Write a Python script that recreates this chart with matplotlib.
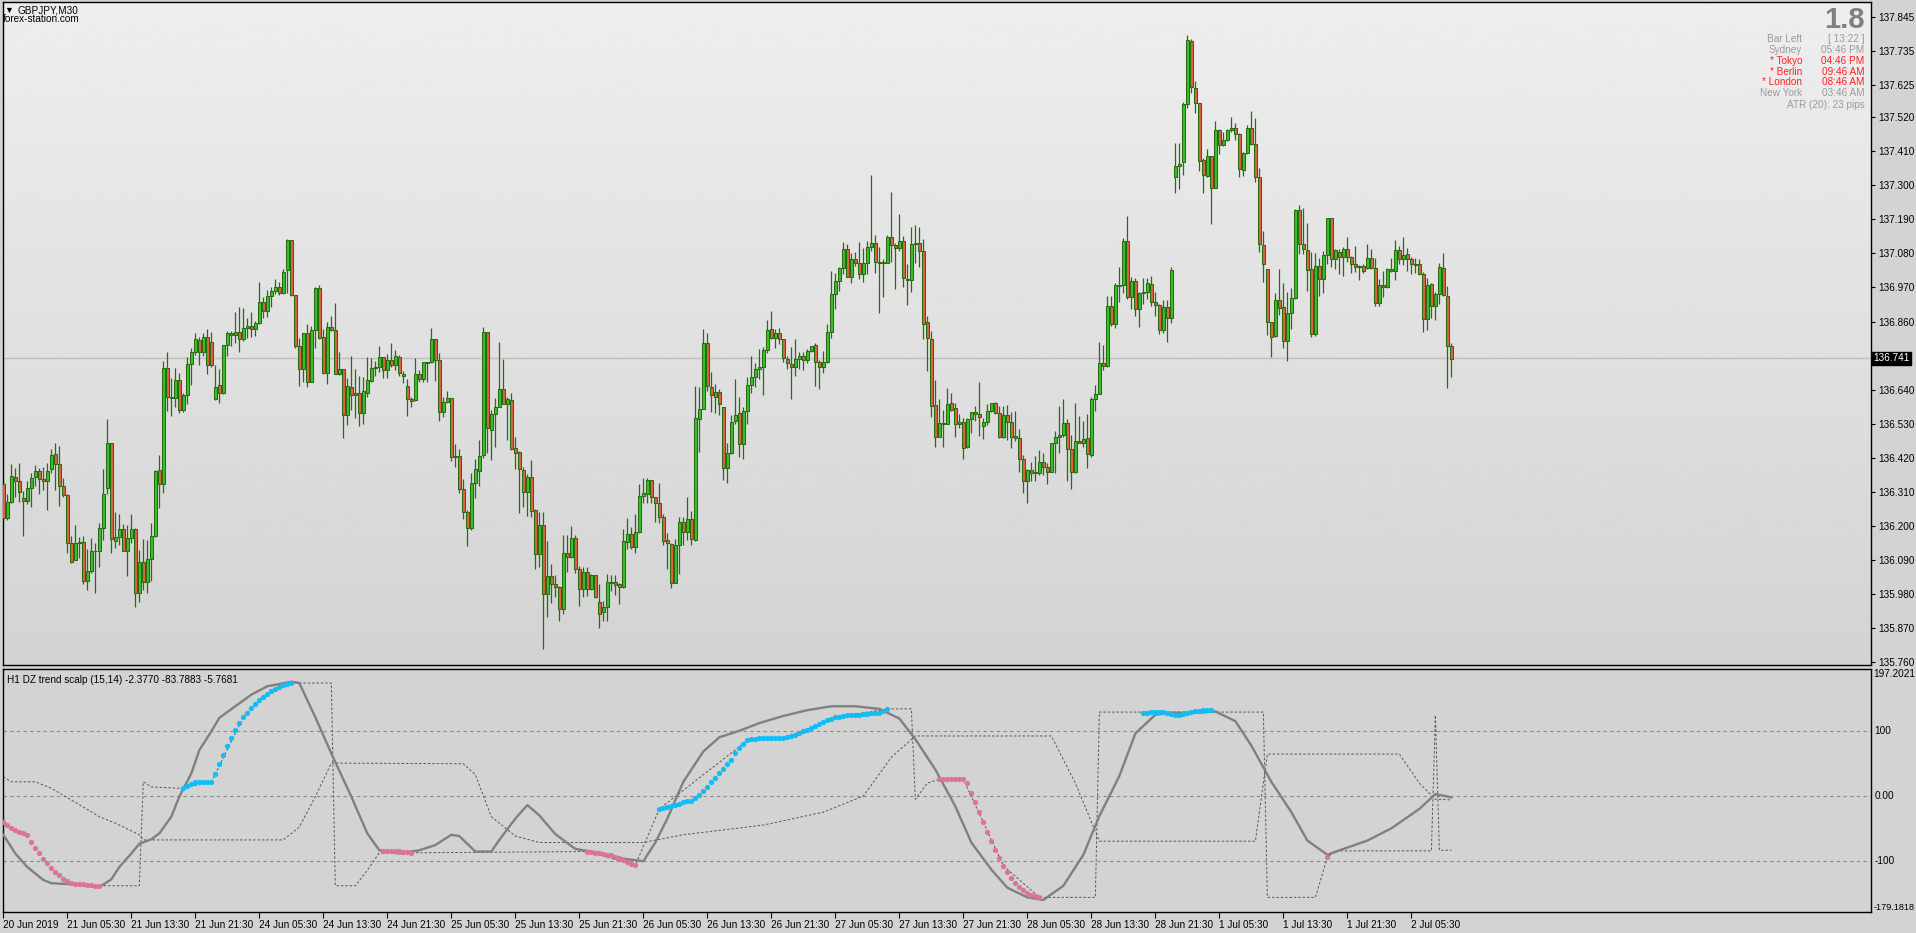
import numpy as np
import matplotlib.pyplot as plt
from matplotlib.transforms import blended_transform_factory

plt.rcParams['font.family'] = ['Liberation Sans', 'DejaVu Sans']

# GBPJPY M30 candles
opens = [
    136.335, 136.224, 136.278, 136.359, 136.346, 136.289, 136.280, 136.323, 136.357, 136.378,
    136.351, 136.343, 136.383, 136.431, 136.399, 136.327, 136.298, 136.144, 136.088, 136.144,
    136.149, 136.023, 136.055, 136.117, 136.117, 136.192, 136.321, 136.467, 136.152, 136.165,
    136.189, 136.120, 136.160, 136.189, 135.984, 136.084, 136.017, 136.092, 136.167, 136.381,
    136.334, 136.709, 136.615, 136.612, 136.670, 136.573, 136.622, 136.722, 136.761, 136.801,
    136.761, 136.811, 136.793, 136.611, 136.655, 136.628, 136.784, 136.818, 136.825, 136.825,
    136.803, 136.838, 136.844, 136.835, 136.854, 136.922, 136.893, 136.942, 136.958, 136.971,
    136.951, 137.026, 137.123, 136.945, 136.782, 136.706, 136.822, 136.663, 136.833, 136.968,
    136.809, 136.693, 136.842, 136.833, 136.690, 136.706, 136.557, 136.648, 136.628, 136.628,
    136.564, 136.630, 136.669, 136.711, 136.714, 136.744, 136.703, 136.734, 136.721, 136.744,
    136.690, 136.651, 136.609, 136.607, 136.689, 136.673, 136.727, 136.728, 136.805, 136.735,
    136.568, 136.601, 136.612, 136.425, 136.425, 136.318, 136.245, 136.192, 136.337, 136.378,
    136.429, 136.825, 136.511, 136.560, 136.583, 136.641, 136.595, 136.606, 136.450, 136.437,
    136.379, 136.308, 136.356, 136.251, 136.108, 136.204, 135.980, 136.038, 136.011, 136.001,
    135.930, 136.111, 136.098, 136.162, 136.059, 135.997, 136.049, 135.997, 136.041, 135.952,
    135.922, 135.936, 136.016, 136.018, 136.012, 136.003, 136.149, 136.172, 136.130, 136.179,
    136.296, 136.301, 136.347, 136.292, 136.272, 136.227, 136.154, 136.140, 136.016, 136.137,
    136.212, 136.179, 136.221, 136.154, 136.544, 136.578, 136.789, 136.647, 136.631, 136.631,
    136.585, 136.385, 136.434, 136.537, 136.563, 136.463, 136.572, 136.654, 136.680, 136.708,
    136.714, 136.767, 136.835, 136.806, 136.822, 136.803, 136.739, 136.723, 136.712, 136.738,
    136.750, 136.734, 136.764, 136.783, 136.728, 136.712, 136.728, 136.825, 136.948, 136.992,
    137.032, 137.093, 137.005, 137.061, 137.048, 137.013, 137.050, 137.102, 137.113, 137.052,
    137.051, 137.050, 137.132, 137.108, 137.096, 137.119, 136.997, 136.994, 137.111, 137.113,
    137.087, 136.857, 136.803, 136.589, 136.486, 136.529, 136.529, 136.596, 136.580, 136.534,
    136.534, 136.454, 136.544, 136.567, 136.561, 136.521, 136.534, 136.570, 136.596, 136.564,
    136.486, 136.558, 136.534, 136.490, 136.483, 136.416, 136.345, 136.380, 136.372, 136.372,
    136.406, 136.391, 136.374, 136.467, 136.486, 136.493, 136.531, 136.447, 136.373, 136.474,
    136.467, 136.483, 136.429, 136.609, 136.625, 136.725, 136.717, 136.910, 136.853, 136.976,
    136.978, 137.120, 136.940, 136.991, 136.899, 136.951, 136.955, 136.982, 136.922, 136.913,
    136.831, 136.907, 136.870, 137.326, 137.368, 137.376, 137.562, 137.766, 137.613, 137.565,
    137.382, 137.331, 137.395, 137.292, 137.479, 137.430, 137.446, 137.479, 137.485, 137.466,
    137.348, 137.403, 137.484, 137.434, 137.326, 137.107, 137.030, 136.857, 136.814, 136.929,
    136.907, 136.797, 136.886, 136.935, 137.220, 137.109, 137.090, 137.029, 136.819, 137.039,
    136.996, 137.075, 137.193, 137.061, 137.086, 137.067, 137.093, 137.067, 137.046, 137.039,
    137.039, 137.032, 137.064, 137.032, 136.919, 136.978, 136.970, 137.024, 137.024, 137.090,
    137.061, 137.077, 137.061, 137.046, 137.045, 137.012, 136.868, 136.980, 136.911, 136.949,
    137.032, 136.943, 136.782,
]
highs = [
    136.359, 136.302, 136.400, 136.386, 136.402, 136.311, 136.346, 136.370, 136.397, 136.386,
    136.389, 136.402, 136.448, 136.467, 136.458, 136.354, 136.302, 136.167, 136.203, 136.165,
    136.167, 136.124, 136.160, 136.144, 136.208, 136.384, 136.545, 136.467, 136.244, 136.238,
    136.206, 136.203, 136.238, 136.194, 136.122, 136.157, 136.154, 136.208, 136.381, 136.429,
    136.733, 136.762, 136.677, 136.709, 136.693, 136.628, 136.744, 136.776, 136.824, 136.809,
    136.824, 136.836, 136.826, 136.720, 136.707, 136.784, 136.830, 136.830, 136.892, 136.906,
    136.903, 136.871, 136.892, 136.863, 136.987, 136.938, 136.962, 136.973, 136.997, 136.987,
    137.030, 137.127, 137.123, 136.945, 136.806, 136.822, 136.852, 136.844, 136.973, 136.978,
    136.835, 136.857, 136.878, 136.920, 136.761, 136.706, 136.677, 136.747, 136.707, 136.685,
    136.682, 136.744, 136.741, 136.732, 136.781, 136.746, 136.754, 136.790, 136.768, 136.751,
    136.700, 136.673, 136.617, 136.741, 136.703, 136.730, 136.730, 136.838, 136.805, 136.757,
    136.615, 136.634, 136.612, 136.463, 136.447, 136.350, 136.251, 136.372, 136.416, 136.477,
    136.841, 136.825, 136.574, 136.612, 136.793, 136.738, 136.615, 136.628, 136.486, 136.442,
    136.389, 136.367, 136.414, 136.255, 136.245, 136.245, 136.151, 136.075, 136.041, 136.005,
    136.170, 136.170, 136.199, 136.170, 136.070, 136.068, 136.068, 136.044, 136.041, 136.012,
    135.957, 136.044, 136.041, 136.041, 136.016, 136.189, 136.224, 136.197, 136.238, 136.335,
    136.355, 136.355, 136.347, 136.294, 136.339, 136.237, 136.175, 136.143, 136.156, 136.229,
    136.229, 136.293, 136.248, 136.651, 136.649, 136.836, 136.823, 136.697, 136.658, 136.642,
    136.585, 136.466, 136.558, 136.674, 136.615, 136.585, 136.680, 136.747, 136.727, 136.771,
    136.777, 136.865, 136.894, 136.836, 136.838, 136.803, 136.749, 136.779, 136.804, 136.760,
    136.760, 136.770, 136.781, 136.792, 136.736, 136.766, 136.852, 137.023, 137.016, 137.037,
    137.117, 137.111, 137.083, 137.084, 137.117, 137.099, 137.121, 137.334, 137.140, 137.100,
    137.062, 137.140, 137.278, 137.113, 137.208, 137.136, 137.045, 137.164, 137.172, 137.164,
    137.127, 136.879, 136.830, 136.671, 136.610, 136.574, 136.644, 136.628, 136.596, 136.561,
    136.547, 136.547, 136.569, 136.587, 136.664, 136.547, 136.593, 136.598, 136.599, 136.587,
    136.588, 136.590, 136.566, 136.571, 136.512, 136.429, 136.384, 136.407, 136.424, 136.445,
    136.434, 136.404, 136.469, 136.506, 136.588, 136.610, 136.545, 136.493, 136.598, 136.555,
    136.540, 136.561, 136.615, 136.655, 136.795, 136.784, 136.943, 136.943, 136.985, 137.037,
    137.131, 137.202, 137.005, 137.002, 136.956, 137.002, 136.999, 137.008, 136.956, 136.915,
    136.929, 136.929, 137.037, 137.438, 137.436, 137.570, 137.786, 137.773, 137.638, 137.565,
    137.389, 137.417, 137.395, 137.508, 137.482, 137.471, 137.482, 137.521, 137.503, 137.470,
    137.409, 137.495, 137.540, 137.519, 137.357, 137.152, 137.030, 136.859, 136.953, 137.030,
    136.985, 136.954, 136.969, 137.222, 137.236, 137.228, 137.177, 137.086, 137.080, 137.064,
    137.088, 137.196, 137.196, 137.094, 137.094, 137.102, 137.132, 137.072, 137.105, 137.042,
    137.045, 137.110, 137.094, 137.066, 136.997, 137.023, 137.034, 137.066, 137.125, 137.104,
    137.133, 137.099, 137.067, 137.066, 137.061, 137.021, 137.002, 136.983, 136.956, 137.050,
    137.080, 136.975, 136.790,
]
lows = [
    136.213, 136.217, 136.275, 136.294, 136.278, 136.168, 136.271, 136.262, 136.329, 136.303,
    136.316, 136.251, 136.370, 136.316, 136.264, 136.294, 136.111, 136.081, 136.088, 136.095,
    136.012, 135.993, 136.047, 135.984, 136.068, 136.154, 136.302, 136.113, 136.127, 136.138,
    136.117, 136.039, 136.144, 135.939, 135.952, 135.991, 135.984, 136.020, 136.165, 136.256,
    136.307, 136.571, 136.556, 136.585, 136.564, 136.569, 136.593, 136.655, 136.752, 136.718,
    136.747, 136.690, 136.714, 136.607, 136.596, 136.626, 136.750, 136.781, 136.790, 136.760,
    136.797, 136.806, 136.809, 136.814, 136.851, 136.871, 136.876, 136.908, 136.949, 136.946,
    136.949, 136.953, 136.941, 136.776, 136.653, 136.666, 136.647, 136.663, 136.776, 136.805,
    136.690, 136.658, 136.830, 136.690, 136.688, 136.485, 136.524, 136.574, 136.548, 136.521,
    136.528, 136.617, 136.665, 136.684, 136.698, 136.678, 136.678, 136.714, 136.703, 136.684,
    136.660, 136.555, 136.585, 136.603, 136.665, 136.665, 136.665, 136.725, 136.669, 136.539,
    136.550, 136.598, 136.410, 136.389, 136.307, 136.221, 136.136, 136.186, 136.289, 136.329,
    136.420, 136.436, 136.412, 136.453, 136.583, 136.593, 136.477, 136.445, 136.384, 136.242,
    136.262, 136.231, 136.229, 136.061, 136.068, 135.802, 135.904, 135.949, 135.971, 135.893,
    135.914, 136.049, 136.095, 136.046, 135.941, 135.969, 135.973, 135.992, 135.965, 135.868,
    135.893, 135.893, 135.990, 135.975, 135.947, 136.000, 136.124, 136.125, 136.113, 136.178,
    136.274, 136.274, 136.272, 136.213, 136.210, 136.137, 136.060, 136.000, 136.014, 136.044,
    136.138, 136.154, 136.137, 136.152, 136.439, 136.577, 136.636, 136.569, 136.563, 136.558,
    136.348, 136.337, 136.432, 136.529, 136.423, 136.415, 136.529, 136.630, 136.647, 136.675,
    136.621, 136.757, 136.803, 136.776, 136.787, 136.728, 136.706, 136.609, 136.684, 136.707,
    136.703, 136.727, 136.760, 136.653, 136.643, 136.695, 136.725, 136.806, 136.900, 136.960,
    137.012, 137.003, 136.986, 137.040, 136.996, 136.989, 137.013, 137.088, 137.018, 136.887,
    136.940, 137.050, 137.051, 136.964, 137.089, 136.970, 136.912, 136.954, 137.048, 137.037,
    136.803, 136.701, 136.553, 136.456, 136.486, 136.456, 136.529, 136.572, 136.488, 136.515,
    136.415, 136.450, 136.499, 136.537, 136.491, 136.479, 136.526, 136.569, 136.561, 136.483,
    136.483, 136.477, 136.450, 136.475, 136.373, 136.307, 136.273, 136.343, 136.345, 136.364,
    136.364, 136.334, 136.373, 136.370, 136.434, 136.488, 136.343, 136.318, 136.372, 136.467,
    136.456, 136.386, 136.423, 136.572, 136.625, 136.703, 136.712, 136.847, 136.840, 136.924,
    136.951, 136.933, 136.899, 136.879, 136.843, 136.915, 136.933, 136.910, 136.879, 136.819,
    136.822, 136.795, 136.856, 137.274, 137.287, 137.333, 137.549, 137.597, 137.535, 137.347,
    137.274, 137.328, 137.174, 137.290, 137.400, 137.428, 137.443, 137.471, 137.446, 137.328,
    137.331, 137.400, 137.432, 137.310, 137.086, 136.987, 136.816, 136.746, 136.811, 136.881,
    136.775, 136.733, 136.835, 136.932, 137.077, 137.078, 136.960, 136.809, 136.814, 136.943,
    136.953, 137.046, 137.037, 137.030, 137.013, 137.007, 137.053, 137.016, 137.019, 136.994,
    137.016, 137.030, 137.030, 136.910, 136.911, 136.940, 136.967, 137.019, 136.994, 137.045,
    137.043, 137.023, 137.012, 137.016, 137.010, 136.827, 136.833, 136.870, 136.865, 136.915,
    136.943, 136.646, 136.682,
]
closes = [
    136.224, 136.278, 136.362, 136.346, 136.308, 136.280, 136.323, 136.354, 136.378, 136.350,
    136.343, 136.378, 136.428, 136.399, 136.327, 136.298, 136.144, 136.084, 136.144, 136.149,
    136.020, 136.054, 136.120, 136.120, 136.192, 136.302, 136.467, 136.157, 136.165, 136.189,
    136.120, 136.160, 136.189, 135.982, 136.082, 136.017, 136.092, 136.167, 136.377, 136.334,
    136.709, 136.615, 136.612, 136.670, 136.573, 136.622, 136.722, 136.761, 136.803, 136.761,
    136.811, 136.719, 136.719, 136.648, 136.628, 136.784, 136.822, 136.822, 136.818, 136.803,
    136.838, 136.844, 136.835, 136.854, 136.922, 136.893, 136.942, 136.958, 136.971, 136.951,
    137.019, 137.123, 136.945, 136.782, 136.706, 136.822, 136.663, 136.833, 136.968, 136.808,
    136.693, 136.842, 136.831, 136.690, 136.706, 136.557, 136.652, 136.622, 136.621, 136.564,
    136.635, 136.671, 136.709, 136.714, 136.744, 136.703, 136.734, 136.721, 136.747, 136.692,
    136.683, 136.608, 136.604, 136.689, 136.673, 136.730, 136.730, 136.805, 136.735, 136.568,
    136.599, 136.612, 136.421, 136.421, 136.318, 136.245, 136.192, 136.337, 136.382, 136.427,
    136.825, 136.515, 136.560, 136.583, 136.641, 136.595, 136.608, 136.447, 136.436, 136.382,
    136.308, 136.356, 136.249, 136.108, 136.204, 135.980, 136.038, 136.011, 136.001, 135.930,
    136.111, 136.098, 136.162, 136.059, 135.997, 136.049, 135.997, 136.041, 135.969, 135.914,
    135.936, 136.018, 136.019, 136.010, 136.003, 136.151, 136.172, 136.130, 136.179, 136.296,
    136.305, 136.347, 136.292, 136.272, 136.227, 136.152, 136.143, 136.014, 136.137, 136.212,
    136.181, 136.221, 136.156, 136.547, 136.578, 136.789, 136.650, 136.621, 136.617, 136.595,
    136.385, 136.434, 136.536, 136.558, 136.463, 136.572, 136.654, 136.680, 136.706, 136.714,
    136.767, 136.832, 136.806, 136.822, 136.803, 136.741, 136.725, 136.712, 136.738, 136.749,
    136.734, 136.764, 136.781, 136.728, 136.712, 136.728, 136.825, 136.948, 136.992, 137.032,
    137.093, 137.005, 137.061, 137.048, 137.013, 137.050, 137.100, 137.113, 137.051, 137.050,
    137.048, 137.132, 137.106, 137.096, 137.119, 136.999, 136.994, 137.111, 137.113, 137.087,
    136.851, 136.806, 136.588, 136.486, 136.531, 136.531, 136.593, 136.575, 136.528, 136.528,
    136.450, 136.544, 136.567, 136.560, 136.553, 136.534, 136.570, 136.596, 136.564, 136.486,
    136.558, 136.534, 136.486, 136.483, 136.416, 136.345, 136.380, 136.370, 136.374, 136.407,
    136.389, 136.374, 136.467, 136.486, 136.493, 136.531, 136.448, 136.373, 136.475, 136.469,
    136.479, 136.432, 136.609, 136.625, 136.725, 136.717, 136.910, 136.853, 136.978, 136.978,
    137.120, 136.940, 136.991, 136.899, 136.953, 136.955, 136.985, 136.922, 136.913, 136.831,
    136.907, 136.870, 137.026, 137.362, 137.362, 137.563, 137.770, 137.617, 137.565, 137.380,
    137.335, 137.395, 137.292, 137.479, 137.430, 137.446, 137.479, 137.485, 137.465, 137.352,
    137.406, 137.484, 137.434, 137.326, 137.109, 137.045, 136.857, 136.811, 136.929, 136.905,
    136.797, 136.886, 136.935, 137.220, 137.109, 137.094, 137.025, 136.819, 137.039, 136.996,
    137.075, 137.193, 137.061, 137.090, 137.067, 137.093, 137.067, 137.046, 137.035, 137.035,
    137.024, 137.064, 137.032, 136.919, 136.978, 136.970, 137.030, 137.030, 137.090, 137.061,
    137.075, 137.061, 137.045, 137.044, 137.012, 136.868, 136.978, 136.911, 136.949, 137.035,
    136.946, 136.782, 136.738,
]

time_labels = ['20 Jun 2019', '21 Jun 05:30', '21 Jun 13:30', '21 Jun 21:30', '24 Jun 05:30',
               '24 Jun 13:30', '24 Jun 21:30', '25 Jun 05:30', '25 Jun 13:30', '25 Jun 21:30',
               '26 Jun 05:30', '26 Jun 13:30', '26 Jun 21:30', '27 Jun 05:30', '27 Jun 13:30',
               '27 Jun 21:30', '28 Jun 05:30', '28 Jun 13:30', '28 Jun 21:30', '1 Jul 05:30',
               '1 Jul 13:30', '1 Jul 21:30', '2 Jul 05:30']
price_ticks = [137.845, 137.735, 137.625, 137.520, 137.410, 137.300, 137.190, 137.080,
               136.970, 136.860, 136.750, 136.640, 136.530, 136.420, 136.310, 136.200,
               136.090, 135.980, 135.870, 135.760]
last_price = 136.741

# indicator: (bar, value)
trend_line = [(0, -60), (3, -89), (6, -110), (10, -130), (12, -135), (18, -137), (22, -140),
              (24, -141), (27, -129), (29, -110), (32, -89), (34, -74), (37, -67), (39, -58),
              (42, -32), (44, -1), (47, 35), (49, 71), (52, 100), (54, 121), (58, 139),
              (62, 157), (66, 170), (72, 177), (74, 175), (78, 122), (82, 66), (87, -1),
              (91, -58), (94, -84), (99, -89), (104, -84), (108, -76), (112, -60), (114, -62),
              (118, -86), (122, -86), (124, -68), (128, -35), (131, -14), (134, -30),
              (138, -59), (143, -82), (149, -88), (155, -97), (160, -101), (163, -72),
              (166, -35), (170, 22), (175, 69), (179, 91), (184, 101), (189, 113), (195, 124),
              (201, 133), (207, 139), (213, 139), (219, 135), (224, 120), (228, 88), (233, 41),
              (238, -16), (242, -72), (247, -114), (251, -142), (256, -157), (260, -161),
              (265, -139), (270, -91), (274, -31), (279, 31), (283, 97), (288, 126), (292, 129),
              (299, 129), (303, 131), (308, 116), (312, 78), (317, 22), (322, -25), (326, -69),
              (331, -91), (335, -82), (341, -69), (347, -50), (354, -20), (358, 3), (362, -2)]
signal_line = [(24, -139), (34, -139), (35, 22), (37, 14), (44, 12), (52, 21), (53, 34),
               (60, 123), (66, 158), (72, 175), (82, 175), (83, -139), (88, -139), (91, -115),
               (94, -88), (102, -88), (146, -86), (158, -107), (164, -20), (186, 86),
               (195, 90), (210, 124), (221, 135), (227, 135), (228, -5), (231, 20), (234, 26),
               (240, 26), (250, -108), (259, -157), (273, -157), (274, 130), (315, 130),
               (316, -157), (328, -157), (331, -95), (333, -85), (357, -85), (358, 125),
               (359, -84), (362, -84)]
zone_line = [(0, 30), (2, 22), (8, 22), (12, 12), (20, -17), (24, -32), (28, -42), (34, -60),
             (35, -68), (70, -68), (74, -48), (78, -1), (82, 51), (115, 50), (118, 33),
             (122, -32), (128, -62), (134, -72), (160, -72), (170, -60), (190, -45),
             (205, -25), (215, 0), (222, 60), (228, 93), (262, 93), (268, 20), (274, -70),
             (313, -70), (316, 65), (349, 65), (354, 20), (358, -5), (362, -6)]

up_runs = [
    (45, [13, 16, 19, 21, 21, 21, 21, 21, 34, 50, 64, 78, 90, 102, 113, 123, 129, 136, 143,
          149, 154, 158, 162, 165, 169, 172, 174, 175]),
    (164, [-20, -19, -17, -16, -14, -12, -10, -8, -7, -3, 2, 7, 14, 22, 28, 35, 42, 49, 56,
           66, 75, 81, 86, 88, 89, 90, 90, 90, 90, 90, 90, 90, 92, 93, 95, 98, 100, 103, 106,
           109, 112, 115, 118, 120, 122, 123, 124, 125, 125, 126, 126, 127, 127, 128, 128,
           129, 131, 135]),
    (285, [128, 129, 130, 130, 130, 130, 128, 127, 126, 126, 127, 128, 130, 131, 132, 133,
           133, 134]),
]
down_runs = [
    (0, [-41, -45, -49, -52, -55, -58, -61, -71, -81, -89, -98, -103, -111, -117, -123, -128,
         -131, -134, -136, -137, -137, -138, -138, -139, -139]),
    (95, [-85, -85, -85, -85, -85, -86, -87, -88]),
    (146, [-86, -87, -88, -89, -90, -91, -92, -94, -96, -99, -102, -105, -107]),
    (234, [26, 26, 26, 26, 26, 26, 26, 20, 5, -10, -25, -40, -55, -70, -83, -96, -108, -118,
           -127, -135, -141, -146, -150, -153, -155, -157]),
    (331, [-95]),
]

FS = 7.2
W, H = 1916, 933
fig = plt.figure(figsize=(W / 100, H / 100), dpi=100, facecolor='#D3D3D3')
left, right = 2.7, 1871.0
ax = fig.add_axes([left / W, 1 - 665 / H, (right - left) / W, (665 - 2) / H])
axi = fig.add_axes([left / W, 1 - 911.7 / H, (right - left) / W, (911.7 - 668.7) / H])

xlim = (-0.15, 466.9)
ylim = (135.750, 137.8925)

# chart background gradient
grad = np.linspace(238, 211, 256).reshape(-1, 1)
ax.imshow(grad, extent=[xlim[0], xlim[1], ylim[0], ylim[1]], aspect='auto', cmap='gray',
          vmin=0, vmax=255, zorder=0, origin='upper')

o = np.array(opens)
h = np.array(highs)
l = np.array(lows)
c = np.array(closes)
xs = np.arange(len(c))
bull = c >= o
edge = '#2A6A12'
ax.axhline(last_price, color='#BEBEBE', lw=1, zorder=1)
ax.vlines(xs, l, h, color=edge, lw=0.9, zorder=2)
bottom = np.minimum(o, c)
height = np.maximum(np.abs(c - o), 0.0008)
ax.bar(xs[bull], height[bull], bottom=bottom[bull], width=0.62, color='#36C22A',
       edgecolor=edge, linewidth=0.75, zorder=3)
ax.bar(xs[~bull], height[~bull], bottom=bottom[~bull], width=0.62, color='#E0623E',
       edgecolor=edge, linewidth=0.75, zorder=3)

ax.set_xlim(*xlim)
ax.set_ylim(*ylim)
ax.set_xticks([])
ax.yaxis.tick_right()
ax.set_yticks(price_ticks)
# the 136.750 label sits under the current-price box
ax.set_yticklabels(['' if abs(p - 136.750) < 1e-6 else '%.3f' % p for p in price_ticks])
ax.tick_params(axis='y', labelsize=FS, length=3, width=0.8, pad=2, colors='black')
for s in ax.spines.values():
    s.set_color('black')
    s.set_linewidth(1)

tr = blended_transform_factory(ax.transAxes, ax.transData)
ax.text(1.0012, last_price, '%.3f' % last_price, transform=tr, color='white', fontsize=FS,
        va='center', ha='left', zorder=10,
        bbox=dict(facecolor='black', edgecolor='black', pad=1.2))

# indicator panel
axi.set_facecolor('#D3D3D3')
for lvl in (100, 0, -100):
    axi.axhline(lvl, color='#8A8A8A', lw=0.8, ls=(0, (3, 3)), zorder=1)
bx, by = zip(*zone_line)
axi.plot(bx, by, color='#555555', lw=0.7, ls=(0, (2.5, 2)), zorder=2)
bx, by = zip(*signal_line)
axi.plot(bx, by, color='#555555', lw=0.7, ls=(0, (2.5, 2)), zorder=2)
bx, by = zip(*trend_line)
axi.plot(bx, by, color='#808080', lw=1.7, zorder=3, solid_joinstyle='round')
for start, vals in down_runs:
    axi.plot(np.arange(start, start + len(vals)), vals, 'o', color='#DE7399', ms=3.8,
             mec='none', zorder=4)
for start, vals in up_runs:
    axi.plot(np.arange(start, start + len(vals)), vals, 'o', color='#12BDF5', ms=3.8,
             mec='none', zorder=4)

axi.set_xlim(*xlim)
axi.set_ylim(-179.1818, 197.2021)
axi.set_yticks([])
axi.set_xticks(np.arange(len(time_labels)) * 16)
axi.set_xticklabels(time_labels, ha='left')
axi.tick_params(axis='x', labelsize=FS, length=4, width=0.8, pad=2, colors='black')
for s in axi.spines.values():
    s.set_color('black')
    s.set_linewidth(1)

tri = blended_transform_factory(axi.transAxes, axi.transData)
axi.text(1.0012, 197.2021, '197.2021', transform=tri, fontsize=FS, va='top', ha='left')
axi.text(1.0012, -179.1818, '-179.1818', transform=tri, fontsize=6.6, va='bottom', ha='left')
for lvl, txt in ((100, '100'), (0, '0.00'), (-100, '-100')):
    axi.text(1.0018, lvl, txt, transform=tri, fontsize=FS, va='center', ha='left')
axi.text(0.0025, 0.955, 'H1 DZ trend scalp (15,14) -2.3770 -83.7883 -5.7681',
         transform=axi.transAxes, fontsize=FS, va='center', ha='left')

# header texts
fig.text(8.5 / W, 1 - 10.5 / H, '\u25bc', fontsize=6.5, va='center', ha='center')
fig.text(18 / W, 1 - 10.5 / H, 'GBPJPY,M30', fontsize=FS, va='center', ha='left')
fig.text(3 / W, 1 - 18.5 / H, 'forex-station.com', fontsize=FS, va='center', ha='left')

fig.text(1865 / W, 1 - 20 / H, '1.8', fontsize=21, fontweight='bold', color='#808080',
         va='center', ha='right')
gray, red = '#9A9A9A', '#FF2020'
info_left = ['Bar Left', 'Sydney', '* Tokyo', '* Berlin', '* London', 'New York']
info_right = ['[ 13:22 ]', '05:46 PM', '04:46 PM', '09:46 AM', '08:46 AM', '03:46 AM']
info_col = [gray, gray, red, red, red, gray]
info_y = [39, 50, 61, 71.7, 82.3, 93.3]
for a, b, col, yy in zip(info_left, info_right, info_col, info_y):
    fig.text(1802 / W, 1 - yy / H, a, fontsize=FS, color=col, va='center', ha='right')
    fig.text(1864.5 / W, 1 - yy / H, b, fontsize=FS, color=col, va='center', ha='right')
fig.text(1864.5 / W, 1 - 105 / H, 'ATR (20): 23 pips', fontsize=FS, color=gray,
         va='center', ha='right')

fig.savefig('out.png', dpi=100, facecolor=fig.get_facecolor())
